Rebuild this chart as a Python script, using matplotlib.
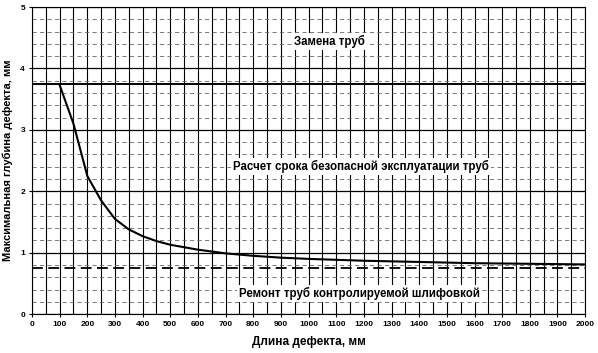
import matplotlib

matplotlib.use("Agg")
import matplotlib.pyplot as plt
import numpy as np

plt.rcParams["font.family"] = ["Liberation Sans", "DejaVu Sans"]

# defect length (mm) vs max allowed defect depth (mm)
defect_length = [100, 150, 200, 250, 300, 350, 400, 450, 500, 600, 700, 800, 900,
                 1000, 1200, 1400, 1600, 1800, 2000]
defect_depth = [3.73, 3.1, 2.25, 1.85, 1.55, 1.38, 1.27, 1.19, 1.13, 1.05, 0.99, 0.95, 0.92,
                0.90, 0.87, 0.85, 0.83, 0.82, 0.81]

replace_level = 3.75
grinding_level = 0.75

x_ticks = list(range(0, 2001, 100))
y_ticks = [0, 1, 2, 3, 4, 5]

zone_labels = ["Замена труб", "Расчет срока безопасной эксплуатации труб",
               "Ремонт труб контролируемой шлифовкой"]
zone_x = [1075, 1190, 1183]
zone_y = [4.44, 2.41, 0.34]

fig = plt.figure(figsize=(5.98, 3.53), dpi=100)
ax = fig.add_axes([0.0535, 0.11, 0.925, 0.87])

# grid: vertical every 50, horizontal solid at integers, dashed at 0.2
for xv in np.arange(0, 2001, 50):
    ax.axvline(xv, color="black", linewidth=0.8, zorder=1)
for yv in np.arange(0.2, 5.0, 0.2):
    if abs(yv - round(yv)) > 1e-6:
        ax.axhline(yv, color="#666666", linewidth=0.6, linestyle=(0, (5, 4)), zorder=1)
for yv in y_ticks:
    ax.axhline(yv, color="black", linewidth=0.9, zorder=1)

ax.axhline(replace_level, color="black", linewidth=1.4, zorder=2)
ax.axhline(grinding_level, color="black", linewidth=1.3, linestyle=(0, (6, 3)), zorder=2)
ax.plot(defect_length, defect_depth, color="black", linewidth=1.5, zorder=3)

for label, tx, ty in zip(zone_labels, zone_x, zone_y):
    ax.text(tx, ty, label, ha="center", va="center", fontsize=8.3, fontweight="bold",
            bbox=dict(facecolor="white", edgecolor="none", pad=1.5), zorder=4)

ax.set_xlim(0, 2000)
ax.set_ylim(0, 5)
ax.set_xticks(x_ticks)
ax.set_yticks(y_ticks)
ax.tick_params(labelsize=6, length=2, width=0.8, pad=3)
for lbl in ax.get_xticklabels() + ax.get_yticklabels():
    lbl.set_fontweight("bold")
for side in ["top", "right"]:
    ax.spines[side].set_linewidth(0.8)

ax.set_xlabel("Длина дефекта, мм", fontsize=8.5, fontweight="bold", labelpad=6)
ax.set_ylabel("Максимальная глубина дефекта, мм", fontsize=8, fontweight="bold", labelpad=5)

fig.savefig("out.png", dpi=100)
